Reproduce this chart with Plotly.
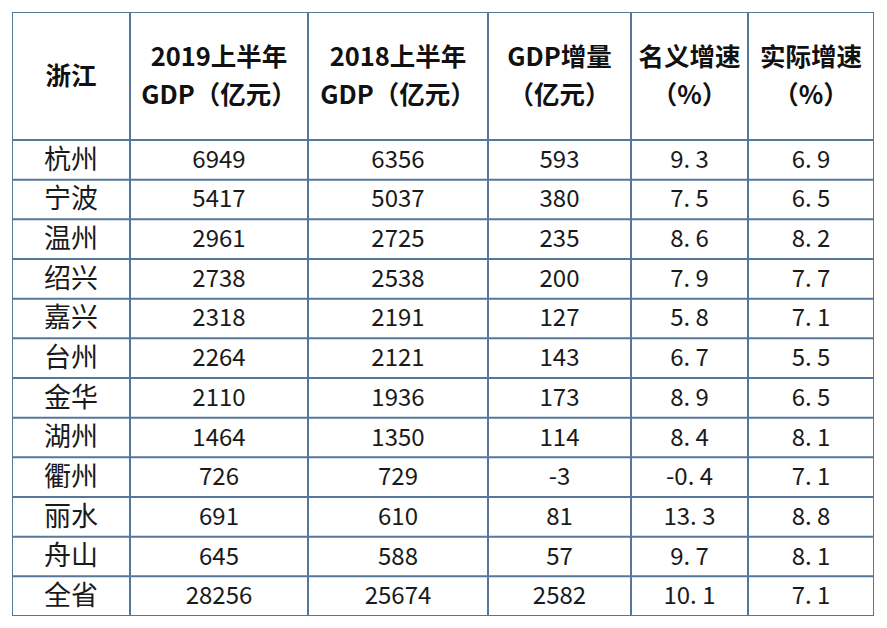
import plotly.graph_objects as go
import numpy as np

header_line1 = ["浙江", "2019上半年", "2018上半年", "GDP增量", "名义增速", "实际增速"]
header_line2 = ["", "GDP（亿元）", "GDP（亿元）", "（亿元）", "（%）", "（%）"]
cities = ["杭州", "宁波", "温州", "绍兴", "嘉兴", "台州", "金华", "湖州", "衢州", "丽水", "舟山", "全省"]
gdp_2019 = [6949, 5417, 2961, 2738, 2318, 2264, 2110, 1464, 726, 691, 645, 28256]
gdp_2018 = [6356, 5037, 2725, 2538, 2191, 2121, 1936, 1350, 729, 610, 588, 25674]
gdp_inc = [593, 380, 235, 200, 127, 143, 173, 114, -3, 81, 57, 2582]
nominal = [9.3, 7.5, 8.6, 7.9, 5.8, 6.7, 8.9, 8.4, -0.4, 13.3, 9.7, 10.1]
real = [6.9, 6.5, 8.2, 7.7, 7.1, 5.5, 6.5, 8.1, 7.1, 8.8, 8.1, 7.1]

fmt = lambda v: f"{v:.1f}".replace(".", ". ")
columns = [cities, [str(v) for v in gdp_2019], [str(v) for v in gdp_2018],
           [str(v) for v in gdp_inc], [fmt(v) for v in nominal], [fmt(v) for v in real]]

# layout (pixel-like units)
col_w = np.array([118, 178, 180, 143, 117, 126])
col_font = [27, 24, 24, 24, 24, 24]
header_h = 128
row_h = 39.67
edges_x = np.concatenate([[0], np.cumsum(col_w)])
centers_x = (edges_x[:-1] + edges_x[1:]) / 2
n_rows = len(cities)
total_w = edges_x[-1]
total_h = header_h + n_rows * row_h
edges_y = [0, header_h] + [header_h + (i + 1) * row_h for i in range(n_rows)]
row_y = [header_h + (i + 0.5) * row_h + 2 for i in range(n_rows)]

FONT = "Noto Sans CJK SC"
HFONT = 25.5
line_color = "#56779a"

fig = go.Figure()
# header: single-line cells centred in the header, two-line cells split
y1 = [header_h / 2 + 3 if not l2 else 48 for l2 in header_line2]
fig.add_trace(go.Scatter(
    x=centers_x, y=y1, text=[f"<b>{h}</b>" for h in header_line1], mode="text",
    textposition="middle center",
    textfont=dict(family=FONT, size=HFONT, color="#111"),
    hoverinfo="skip", showlegend=False))
fig.add_trace(go.Scatter(
    x=centers_x, y=[86] * len(header_line2), text=[f"<b>{h}</b>" if h else "" for h in header_line2],
    mode="text", textposition="middle center",
    textfont=dict(family=FONT, size=HFONT, color="#111"),
    hoverinfo="skip", showlegend=False))
for j, col in enumerate(columns):
    fig.add_trace(go.Scatter(
        x=[centers_x[j]] * n_rows, y=row_y, text=col, mode="text",
        textposition="middle center",
        textfont=dict(family=FONT, size=col_font[j], color="#1a1a1a"),
        hoverinfo="skip", showlegend=False))

for xe in edges_x:
    fig.add_shape(type="line", x0=xe, x1=xe, y0=0, y1=total_h,
                  line=dict(color=line_color, width=2), layer="below")
for ye in edges_y:
    fig.add_shape(type="line", x0=0, x1=total_w, y0=ye, y1=ye,
                  line=dict(color=line_color, width=2), layer="below")

W, H = 879, 620
fig.update_xaxes(range=[0, total_w], visible=False, fixedrange=True)
fig.update_yaxes(range=[total_h, 0], visible=False, fixedrange=True)
fig.update_layout(width=W, height=H,
                  margin=dict(l=4, r=W - 4 - int(total_w), t=4, b=H - 4 - int(round(total_h))),
                  paper_bgcolor="white", plot_bgcolor="white")
fig.write_html("out.html")
